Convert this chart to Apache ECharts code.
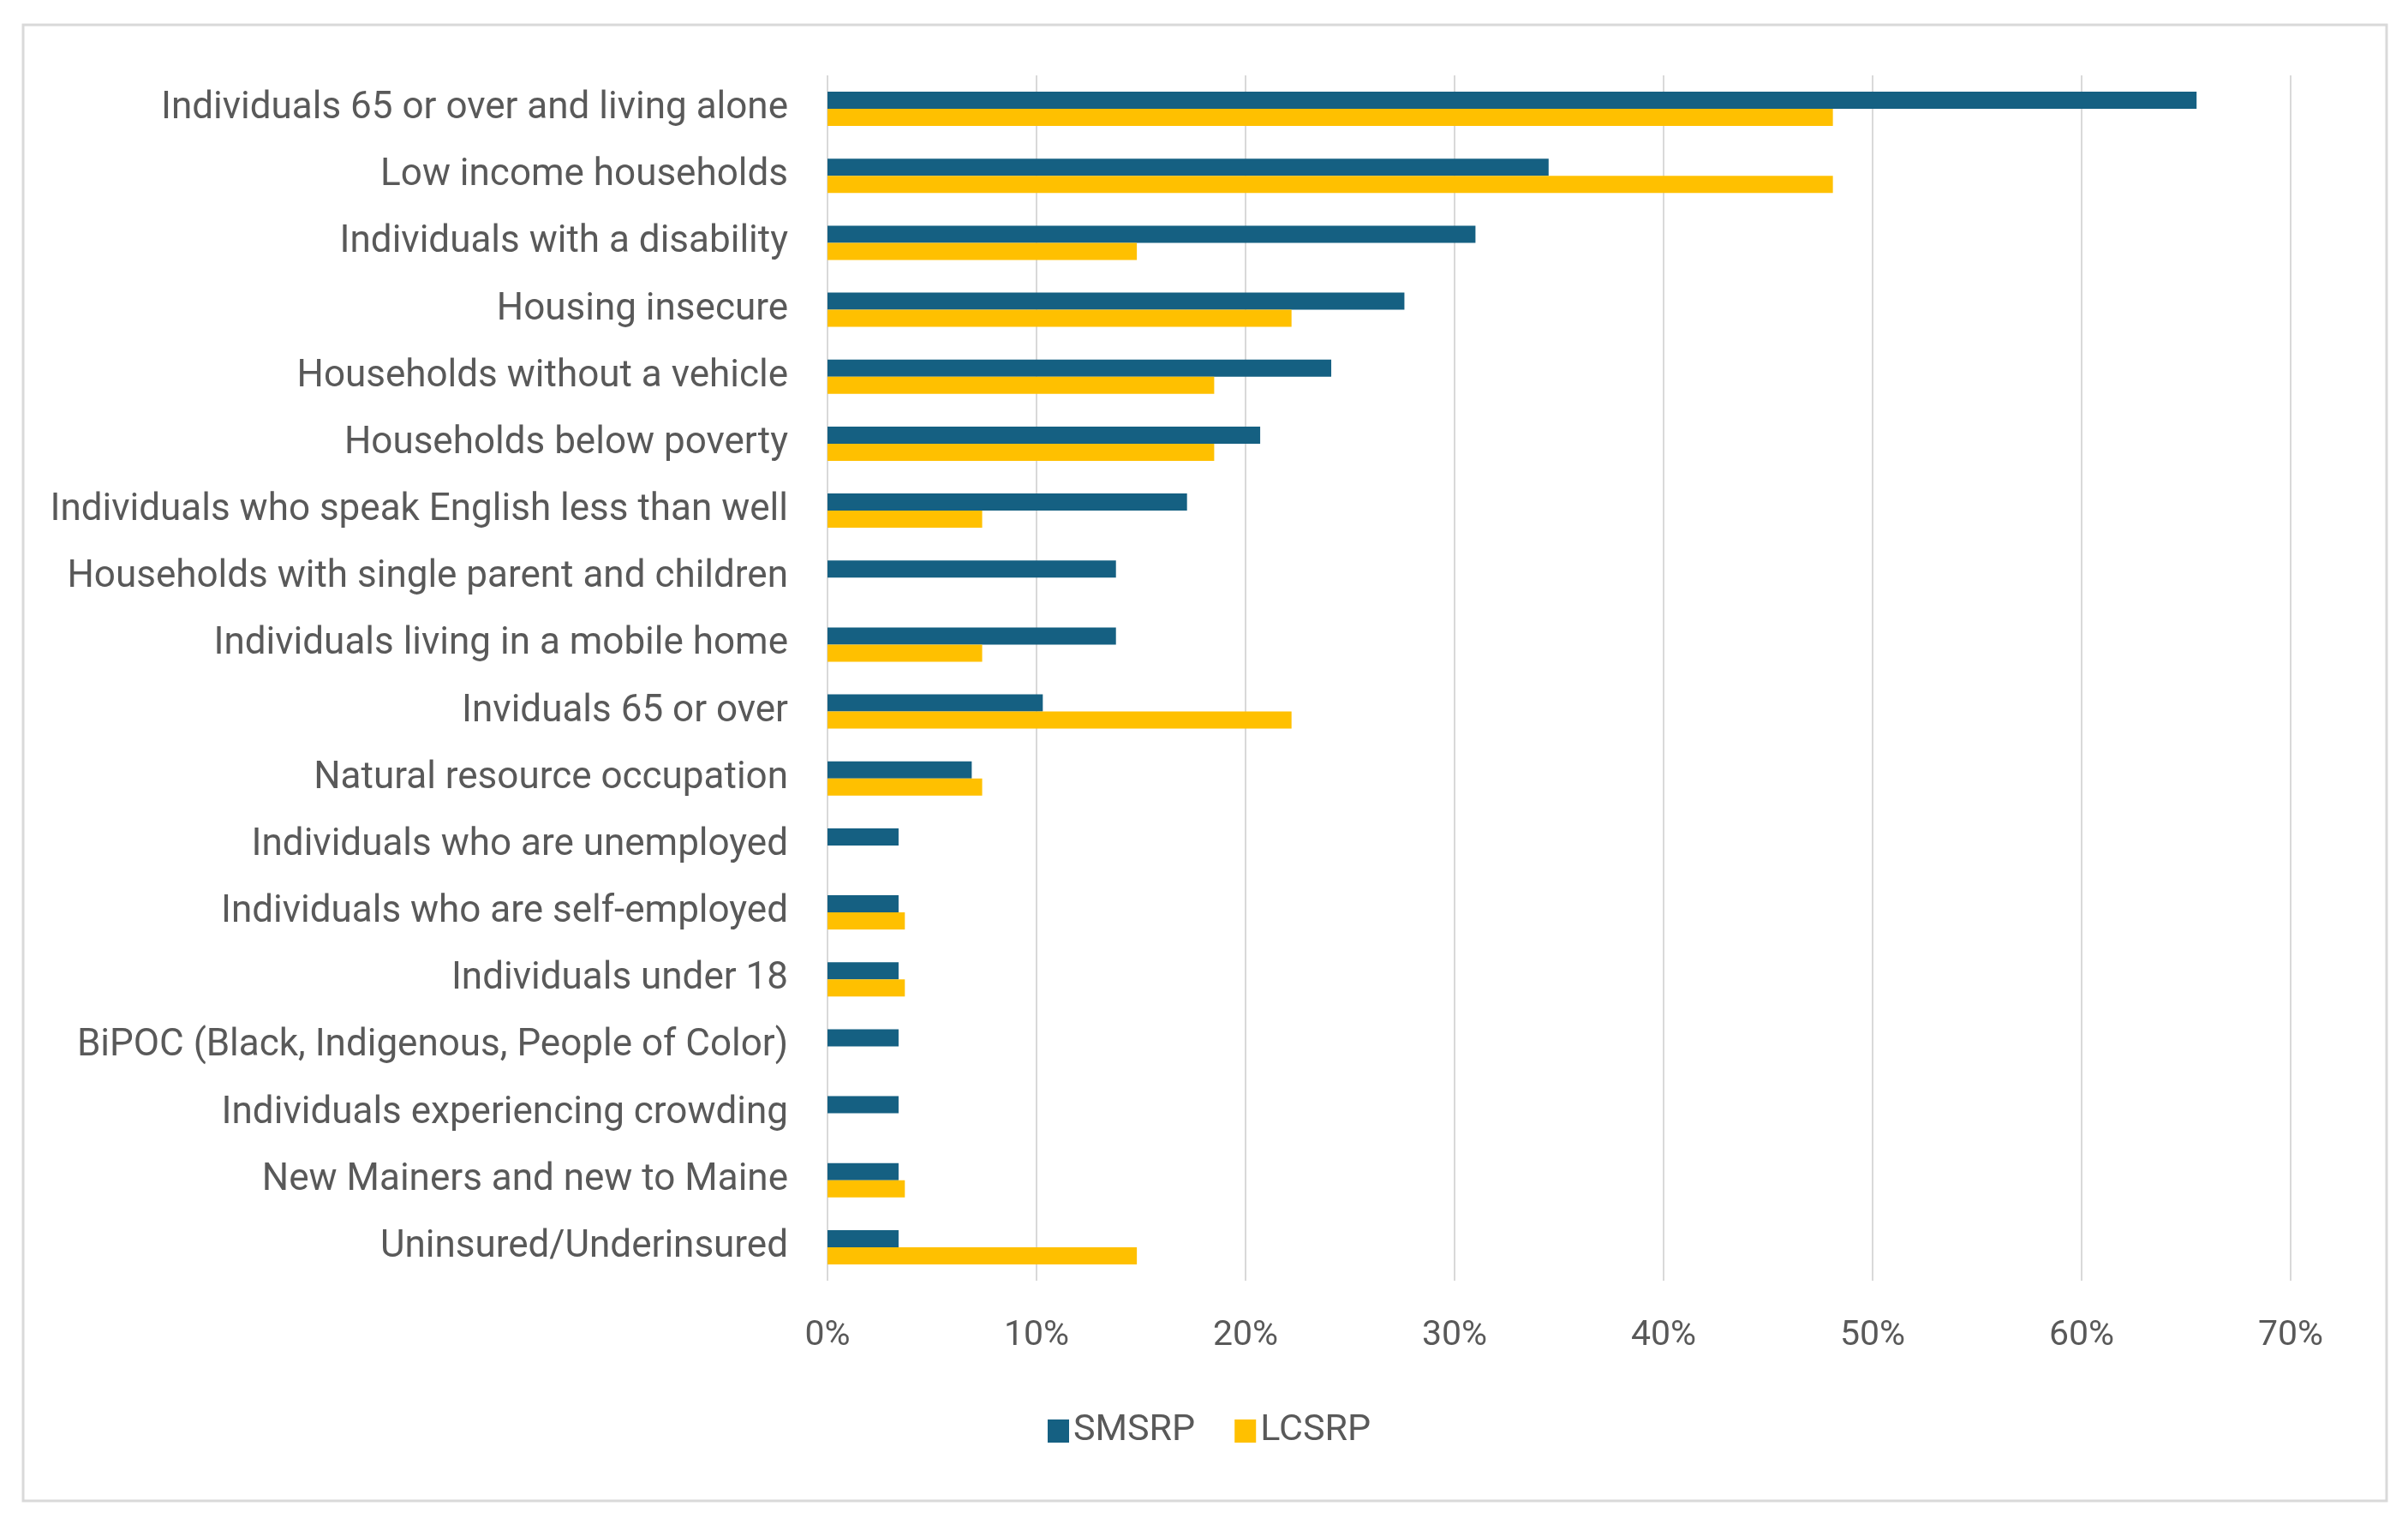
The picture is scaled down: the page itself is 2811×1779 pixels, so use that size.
<!DOCTYPE html>
<html>
<head>
<meta charset="utf-8">
<script src="https://cdn.jsdelivr.net/npm/echarts@6/dist/echarts.min.js"></script>
<style>
  html, body { margin: 0; padding: 0; background: #fff; }
  #chart { width: 2811px; height: 1779px; }
</style>
</head>
<body>
<div id="chart"></div>
<script>
var categories = [
  'Individuals 65 or over and living alone',
  'Low income households',
  'Individuals with a disability',
  'Housing insecure',
  'Households without a vehicle',
  'Households below poverty',
  'Individuals who speak English less than well',
  'Households with single parent and children',
  'Individuals living in a mobile home',
  'Inviduals 65 or over',
  'Natural resource occupation',
  'Individuals who are unemployed',
  'Individuals who are self-employed',
  'Individuals under 18',
  'BiPOC (Black, Indigenous, People of Color)',
  'Individuals experiencing crowding',
  'New Mainers and new to Maine',
  'Uninsured/Underinsured'
];

var smsrp = [0.655, 0.345, 0.310, 0.276, 0.241, 0.207, 0.172, 0.138, 0.138, 0.103, 0.069,
  0.034, 0.034, 0.034, 0.034, 0.034, 0.034, 0.034];
var lcsrp = [0.481, 0.481, 0.148, 0.222, 0.185, 0.185, 0.074, null, 0.074, 0.222, 0.074,
  null, 0.037, 0.037, null, null, 0.037, 0.148];

var tickLabels = ['0%', '10%', '20%', '30%', '40%', '50%', '60%', '70%'];

var FONT = 'Roboto';
var TEXT = '#595959';

var chart = echarts.init(document.getElementById('chart'));

var option = {
  backgroundColor: '#ffffff',
  animation: false,
  textStyle: { fontFamily: FONT },
  graphic: [{
    type: 'rect',
    shape: { x: 27, y: 29, width: 2759, height: 1723 },
    style: { fill: 'none', stroke: '#d9d9d9', lineWidth: 3 },
    silent: true
  }],
  legend: {
    data: ['SMSRP', 'LCSRP'],
    left: 1218,
    top: 1644,
    itemWidth: 25,
    itemHeight: 27,
    itemGap: 46,
    icon: 'rect',
    textStyle: { fontFamily: FONT, fontSize: 43, color: TEXT }
  },
  grid: { left: 966, right: 137, top: 88, bottom: 284 },
  xAxis: {
    type: 'value',
    min: 0,
    max: 0.7,
    interval: 0.1,
    axisLine: { show: false },
    axisTick: { show: false },
    axisLabel: {
      fontFamily: FONT,
      fontSize: 41,
      color: TEXT,
      margin: 44,
      formatter: function (v) { return tickLabels[Math.round(v * 10)]; }
    },
    splitLine: { lineStyle: { color: '#d9d9d9', width: 2 } }
  },
  yAxis: {
    type: 'category',
    data: categories,
    inverse: true,
    axisLine: { show: false },
    axisTick: { show: false },
    axisLabel: { fontFamily: FONT, fontSize: 44, color: TEXT, margin: 46 }
  },
  series: [
    {
      name: 'SMSRP',
      type: 'bar',
      data: smsrp,
      barWidth: 20,
      barGap: '0%',
      itemStyle: { color: '#156082' }
    },
    {
      name: 'LCSRP',
      type: 'bar',
      data: lcsrp,
      barWidth: 20,
      barGap: '0%',
      itemStyle: { color: '#ffc000' }
    }
  ]
};

chart.setOption(option);
</script>
</body>
</html>
